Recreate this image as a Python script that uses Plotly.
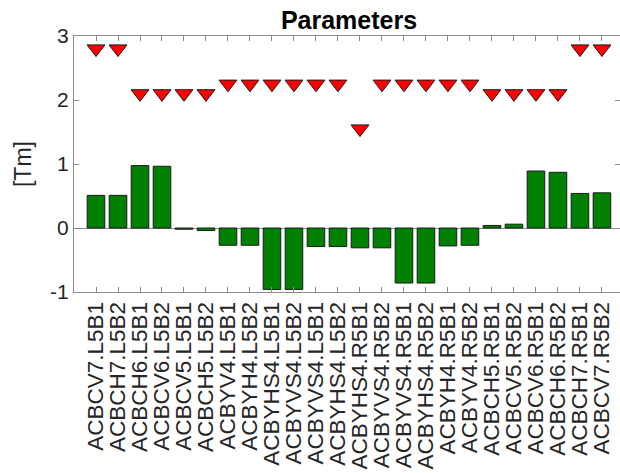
import plotly.graph_objects as go

# Corrector names along the x axis
magnets = [
    "ACBCV7.L5B1", "ACBCH7.L5B2", "ACBCH6.L5B1", "ACBCV6.L5B2",
    "ACBCV5.L5B1", "ACBCH5.L5B2", "ACBYV4.L5B1", "ACBYH4.L5B2",
    "ACBYHS4.L5B1", "ACBYVS4.L5B2", "ACBYVS4.L5B1", "ACBYHS4.L5B2",
    "ACBYHS4.R5B1", "ACBYVS4.R5B2", "ACBYVS4.R5B1", "ACBYHS4.R5B2",
    "ACBYH4.R5B1", "ACBYV4.R5B2", "ACBCH5.R5B1", "ACBCV5.R5B2",
    "ACBCV6.R5B1", "ACBCH6.R5B2", "ACBCH7.R5B1", "ACBCV7.R5B2",
]

# Integrated strength per corrector [Tm]
strength = [
    0.51, 0.51, 0.975, 0.965,
    -0.02, -0.04, -0.27, -0.27,
    -0.96, -0.96, -0.29, -0.29,
    -0.31, -0.31, -0.86, -0.86,
    -0.28, -0.27, 0.04, 0.06,
    0.89, 0.87, 0.54, 0.55,
]

# Maximum strength per corrector [Tm]
limit = [
    2.8, 2.8, 2.1, 2.1,
    2.1, 2.1, 2.25, 2.25,
    2.25, 2.25, 2.25, 2.25,
    1.55, 2.25, 2.25, 2.25,
    2.25, 2.25, 2.1, 2.1,
    2.1, 2.1, 2.8, 2.8,
]

y_ticks = [-1, 0, 1, 2, 3]
y_tick_text = ["-1", "0", "1", "2", "3"]

FONT = "Liberation Sans, Arial, Helvetica, sans-serif"
TEXT = "#262626"
AXIS = "#8c8c8c"

fig = go.Figure()
fig.add_trace(go.Bar(
    x=magnets, y=strength,
    marker=dict(color="#008000", line=dict(color="#1a1a1a", width=1)),
    showlegend=False,
))
fig.add_trace(go.Scatter(
    x=magnets, y=limit, mode="markers",
    marker=dict(symbol="triangle-down", size=15.5, color="#ff0000",
                line=dict(color="#1a1a1a", width=1)),
    showlegend=False,
))

fig.update_layout(
    width=620, height=473,
    margin=dict(l=74, r=0, t=36, b=181),
    paper_bgcolor="white", plot_bgcolor="white",
    bargap=0.2,
    font=dict(family=FONT, size=21, color=TEXT),
    title=dict(text="<b>Parameters</b>", font=dict(size=25, color="#000000"),
               x=349 / 620, xref="container", xanchor="center",
               y=1 - 20 / 473, yref="container", yanchor="middle"),
)
fig.update_xaxes(
    type="category", range=[-1, 23.82],
    tickmode="array", tickvals=magnets, ticktext=magnets,
    tickangle=-90, ticks="inside", ticklen=5, tickcolor=AXIS,
    showline=True, linecolor=AXIS, linewidth=1, mirror="ticks",
    showgrid=False, tickfont=dict(size=22.5, color=TEXT),
)
fig.update_yaxes(
    range=[-1, 3], tickvals=y_ticks, ticktext=y_tick_text,
    ticks="inside", ticklen=5, tickcolor=AXIS,
    showline=True, linecolor=AXIS, linewidth=1, mirror="ticks",
    showgrid=False, zeroline=True, zerolinecolor=AXIS, zerolinewidth=1,
    tickfont=dict(size=21, color=TEXT),
    title=dict(text="[Tm]", font=dict(size=23, color=TEXT), standoff=12),
)

fig.write_html("out.html")
